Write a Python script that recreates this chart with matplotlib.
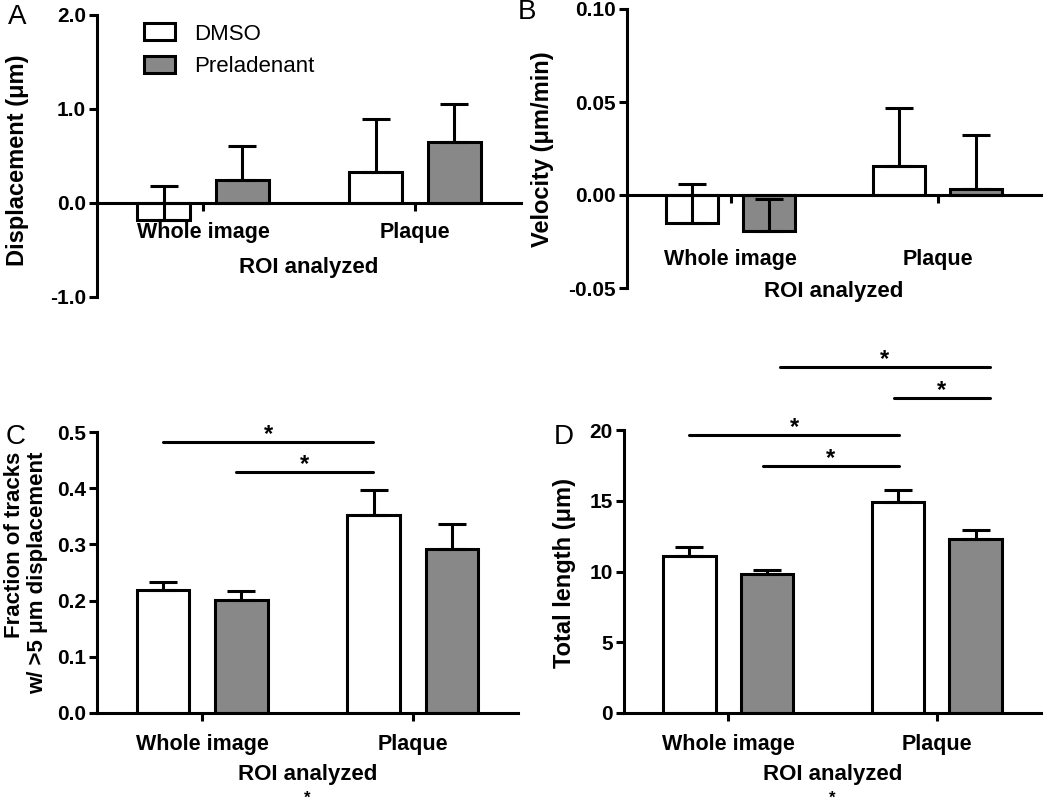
import numpy as np
import matplotlib.pyplot as plt
from matplotlib.patches import Patch

plt.rcParams['font.family'] = ['Liberation Sans', 'DejaVu Sans']
plt.rcParams['font.weight'] = 'bold'

groups = ['Whole image', 'Plaque']

# panel A: displacement (um)
disp_dmso = [-0.18, 0.33]
disp_dmso_err = [0.36, 0.56]
disp_prel = [0.245, 0.645]
disp_prel_err = [0.365, 0.405]

# panel B: velocity (um/min)
vel_dmso = [-0.0151, 0.0156]
vel_dmso_err = [0.021, 0.0314]
vel_prel = [-0.0194, 0.0032]
vel_prel_err = [0.0174, 0.0288]

# panel C: fraction of tracks w/ >5 um displacement
frac_dmso = [0.218, 0.353]
frac_dmso_err = [0.015, 0.044]
frac_prel = [0.201, 0.291]
frac_prel_err = [0.016, 0.045]

# panel D: total length (um)
len_dmso = [11.1, 14.93]
len_dmso_err = [0.6, 0.83]
len_prel = [9.8, 12.3]
len_prel_err = [0.3, 0.63]

# significance bars (x0, x1, y)
sig_C = [(-0.185, 0.81, 0.482), (0.161, 0.81, 0.428)]
sig_D = [(-0.187, 0.818, 19.65), (0.167, 0.818, 17.46),
         (0.249, 1.254, 24.45), (0.794, 1.254, 22.26)]

W, H = 1050, 806
fig = plt.figure(figsize=(W / 100, H / 100), dpi=100)

LW = 2.2
GREY = '#888888'
off = 0.186
bw = 0.25


def px_ax(l, r, t, b):
    return fig.add_axes([l / W, 1 - b / H, (r - l) / W, (b - t) / H])


def panel(ax, dmso, dmso_err, prel, prel_err, ylim, yticks, ylabels, pad):
    x = np.arange(len(groups))
    for s in ['top', 'right']:
        ax.spines[s].set_visible(False)
    for s in ['left', 'bottom']:
        ax.spines[s].set_linewidth(LW)
    ax.spines['bottom'].set_position(('data', 0))
    ax.bar(x - off, dmso, bw, color='white', edgecolor='black', linewidth=LW, zorder=2)
    ax.bar(x + off, prel, bw, color=GREY, edgecolor='black', linewidth=LW, zorder=2)
    for xs, v, e in [(x - off, dmso, dmso_err), (x + off, prel, prel_err)]:
        ax.errorbar(xs, v, yerr=[np.zeros(len(e)), e], fmt='none', ecolor='black',
                    elinewidth=LW, capsize=10, capthick=LW, zorder=3)
    ax.set_xlim(-0.5, 1.5)
    ax.set_ylim(*ylim)
    ax.set_yticks(yticks)
    ax.set_yticklabels(ylabels)
    ax.set_xticks(x)
    ax.set_xticklabels(groups)
    ax.tick_params(axis='y', length=6, width=LW, pad=2, labelsize=15)
    ax.tick_params(axis='x', length=6, width=LW, pad=pad, labelsize=15.5)
    ax.patch.set_alpha(0)


def sig(ax, lines):
    for x0, x1, y in lines:
        ax.plot([x0, x1], [y, y], color='black', lw=LW, clip_on=False, solid_capstyle='round')
        ax.annotate('*', xy=((x0 + x1) / 2, y), xytext=(0, 1), textcoords='offset points',
                    ha='center', va='baseline', fontsize=17, annotation_clip=False)


def ftext(x, y, s, **kw):
    fig.text(x / W, 1 - y / H, s, **kw)


axA = px_ax(97, 521, 15, 297)
panel(axA, disp_dmso, disp_dmso_err, disp_prel, disp_prel_err, (-1, 2),
      [-1, 0, 1, 2], ['-1.0', '0.0', '1.0', '2.0'], 8)
axA.text(0.5, 0.106, 'ROI analyzed', transform=axA.transAxes, ha='center', va='center', fontsize=16)
leg = axA.legend(handles=[Patch(facecolor='white', edgecolor='black', linewidth=LW, label='DMSO'),
                          Patch(facecolor=GREY, edgecolor='black', linewidth=LW, label='Preladenant')],
                 loc='upper left', bbox_to_anchor=(0.085, 1.01), frameon=False, borderpad=0,
                 handlelength=1.4, handleheight=0.8, handletextpad=0.85, labelspacing=0.5,
                 prop={'size': 16, 'weight': 'normal'})

axB = px_ax(627, 1041, 9, 288)
panel(axB, vel_dmso, vel_dmso_err, vel_prel, vel_prel_err, (-0.05, 0.10),
      [-0.05, 0, 0.05, 0.10], ['-0.05', '0.00', '0.05', '0.10'], 33)
axB.text(0.5, -0.014, 'ROI analyzed', transform=axB.transAxes, ha='center', va='center', fontsize=16)

axC = px_ax(97, 518, 432, 713)
panel(axC, frac_dmso, frac_dmso_err, frac_prel, frac_prel_err, (0, 0.5),
      np.arange(0, 0.51, 0.1), ['0.0', '0.1', '0.2', '0.3', '0.4', '0.5'], 9)
axC.text(0.5, -0.218, 'ROI analyzed', transform=axC.transAxes, ha='center', va='center', fontsize=16)
sig(axC, sig_C)

axD = px_ax(624, 1041, 430, 713)
panel(axD, len_dmso, len_dmso_err, len_prel, len_prel_err, (0, 20),
      [0, 5, 10, 15, 20], ['0', '5', '10', '15', '20'], 9)
axD.text(0.5, -0.217, 'ROI analyzed', transform=axD.transAxes, ha='center', va='center', fontsize=16)
sig(axD, sig_D)

# axis titles
ftext(18, 160, 'Displacement (μm)', rotation=90, ha='center', va='center', fontsize=17)
ftext(543, 149, 'Velocity (μm/min)', rotation=90, ha='center', va='center', fontsize=17)
ftext(26, 573, 'Fraction of tracks\nw/ >5 μm displacement', rotation=90, ha='center',
      va='center', multialignment='right', fontsize=16, linespacing=1.1)
ftext(564, 573, 'Total length (μm)', rotation=90, ha='center', va='center', fontsize=17)

# panel letters
for (x, y), s in zip([(17, 17), (527, 12), (16, 437), (564, 437)], ['A', 'B', 'C', 'D']):
    ftext(x, y, s, ha='center', va='center', fontsize=20, fontweight='normal')

# stray asterisks under the bottom axis titles
ftext(307, 806, '*', ha='center', va='bottom', fontsize=12)
ftext(832, 806, '*', ha='center', va='bottom', fontsize=12)

fig.savefig('out.png', dpi=100)
